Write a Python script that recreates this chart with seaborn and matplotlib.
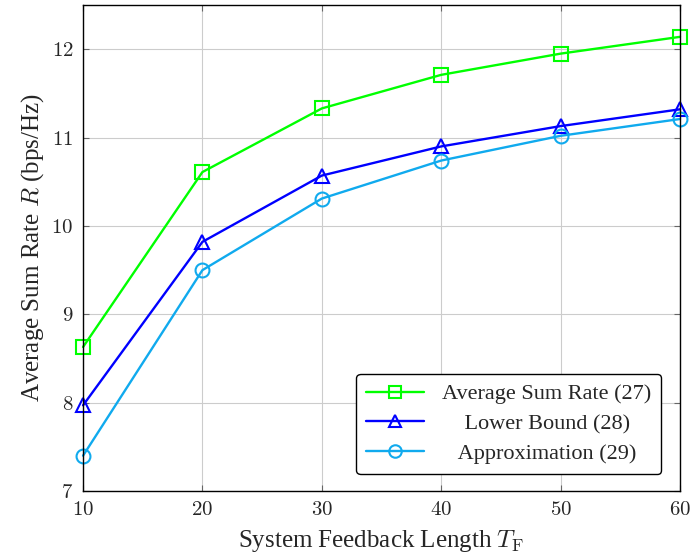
import matplotlib
matplotlib.use("Agg")
import matplotlib.pyplot as plt
import seaborn as sns
import pandas as pd

feedback_length = [10, 20, 30, 40, 50, 60]
avg_sum_rate = [8.63, 10.61, 11.33, 11.71, 11.95, 12.14]
lower_bound = [7.97, 9.82, 10.57, 10.90, 11.13, 11.32]
approximation = [7.40, 9.50, 10.31, 10.74, 11.02, 11.21]
labels = ["Average Sum Rate (27)", "Lower Bound (28)", "Approximation (29)"]
x_ticks = [10, 20, 30, 40, 50, 60]
y_ticks = [7, 8, 9, 10, 11, 12]

sns.set_style("ticks")
plt.rcParams['font.family'] = ['Liberation Serif', 'DejaVu Serif']
plt.rcParams['mathtext.fontset'] = 'cm'

df = pd.concat([
    pd.DataFrame({"T": feedback_length, "R": vals, "series": lab})
    for vals, lab in zip([avg_sum_rate, lower_bound, approximation], labels)
])

fig = plt.figure(figsize=(6.92, 5.59), dpi=100)
ax = fig.add_axes([0.12, 0.1216, 0.8627, 0.8694])

colors = {labels[0]: "#00ff00", labels[1]: "#0000ff", labels[2]: "#10aaee"}
markers = {labels[0]: "s", labels[1]: "^", labels[2]: "o"}
sns.lineplot(data=df, x="T", y="R", hue="series", style="series",
             palette=colors, markers=markers, dashes=False, ax=ax,
             markersize=10, markerfacecolor="none", markeredgewidth=1.5,
             linewidth=1.7, legend=False, clip_on=False)
for line in ax.lines:
    line.set_markeredgecolor(line.get_color())
    line.set_markerfacecolor("none")
    line.set_clip_on(False)

# centre legend labels (as in the reference) by padding with spaces
renderer = fig.canvas.get_renderer()
def text_w(s):
    t = fig.text(0, 0, s, fontsize=16)
    w = t.get_window_extent(renderer).width
    t.remove()
    return w
space_w = text_w("a a") - text_w("aa")
widths = [text_w(l) for l in labels]
maxw = max(widths)
padded = [" " * int(round((maxw - w) / 2 / space_w)) + l for l, w in zip(labels, widths)]

for lab, plab in zip(labels, padded):
    ax.plot([], [], color=colors[lab], marker=markers[lab], markerfacecolor="none",
            markeredgewidth=1.5, markersize=9, linewidth=1.7, label=plab)

ax.set_xlim(10, 60)
ax.set_ylim(7, 12.5)
ax.set_xticks(x_ticks)
ax.set_xticklabels([f"${v}$" for v in x_ticks])
ax.set_yticks(y_ticks)
ax.set_yticklabels([f"${v}$" for v in y_ticks])
ax.grid(True, color="#cccccc", linewidth=0.8)
ax.tick_params(direction="in", top=True, right=True, labelsize=15, length=4, color="#666666")
ax.tick_params(axis="x", pad=7)
ax.tick_params(axis="y", pad=7)
for s in ax.spines.values():
    s.set_color("black")
    s.set_linewidth(1.0)
ax.set_xlabel(r"System Feedback Length $T_{\mathrm{F}}$", fontsize=18, labelpad=6)
ax.set_ylabel(r"Average Sum Rate $R$ (bps/Hz)", fontsize=18, labelpad=4)
leg = ax.legend(loc="lower right", fontsize=16, frameon=True, fancybox=True,
                edgecolor="black", framealpha=1, borderpad=0.45, handlelength=2.6,
                labelspacing=0.42, bbox_to_anchor=(0.987, 0.012))
leg.get_frame().set_linewidth(1.0)
fig.savefig("out.png", dpi=100)
